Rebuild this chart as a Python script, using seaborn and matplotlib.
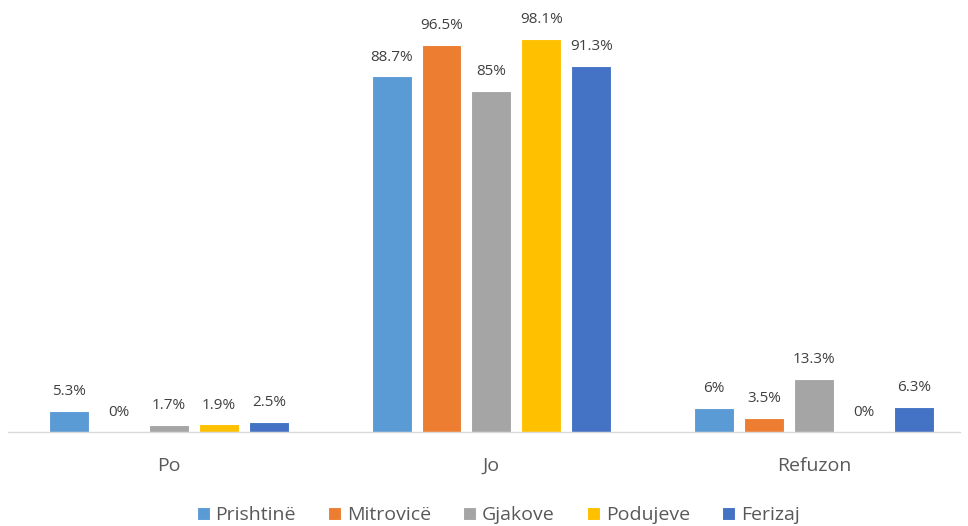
import pandas as pd
import matplotlib
matplotlib.use('Agg')
import matplotlib.pyplot as plt
import seaborn as sns

# data
categories = ['Po', 'Jo', 'Refuzon']
cities = ['Prishtinë', 'Mitrovicë', 'Gjakove', 'Podujeve', 'Ferizaj']
prishtine = [5.3, 88.7, 6.0]
mitrovice = [0.0, 96.5, 3.5]
gjakove = [1.7, 85.0, 13.3]
podujeve = [1.9, 98.1, 0.0]
ferizaj = [2.5, 91.3, 6.3]
colors = ['#5B9BD5', '#ED7D31', '#A5A5A5', '#FFC000', '#4472C4']

series = [prishtine, mitrovice, gjakove, podujeve, ferizaj]
rows = []
for city, vals in zip(cities, series):
    for cat, v in zip(categories, vals):
        rows.append({'Kategoria': cat, 'Qyteti': city, 'Vlera': v})
df = pd.DataFrame(rows)

sns.set_style('white')
plt.rcParams['font.family'] = ['Open Sans', 'DejaVu Sans']

fig = plt.figure(figsize=(9.68, 5.26), dpi=100)
ax = fig.add_axes([8 / 968, 94 / 526, 952 / 968, 401 / 526])

sns.barplot(data=df, x='Kategoria', y='Vlera', hue='Qyteti', order=categories,
            hue_order=cities, palette=colors, saturation=1, width=0.774, gap=0.2,
            edgecolor='white', linewidth=0.8, ax=ax)

for cont, vals in zip(ax.containers, series):
    ax.bar_label(cont, labels=[f'{v:g}%' for v in vals], padding=8.5,
                 fontsize=11, color='#404040')

ax.set_xlim(-0.499, 2.453)
ax.set_ylim(0, 100)
ax.set_xlabel('')
ax.set_ylabel('')
ax.set_yticks([])
ax.tick_params(axis='x', length=0, pad=18, labelsize=14, labelcolor='#595959')
for s in ['top', 'left', 'right']:
    ax.spines[s].set_visible(False)
ax.spines['bottom'].set_color('#D9D9D9')
ax.spines['bottom'].set_linewidth(1)

handles, labels = ax.get_legend_handles_labels()
ax.legend_.remove()
fig.legend(handles, labels, loc='center', bbox_to_anchor=(498 / 968, 1 - 515 / 526),
           ncol=5, frameon=False, fontsize=14, handlelength=0.67, handleheight=0.67,
           handletextpad=0.3, columnspacing=1.65, labelcolor='#595959')

fig.savefig('out.png', dpi=100)
